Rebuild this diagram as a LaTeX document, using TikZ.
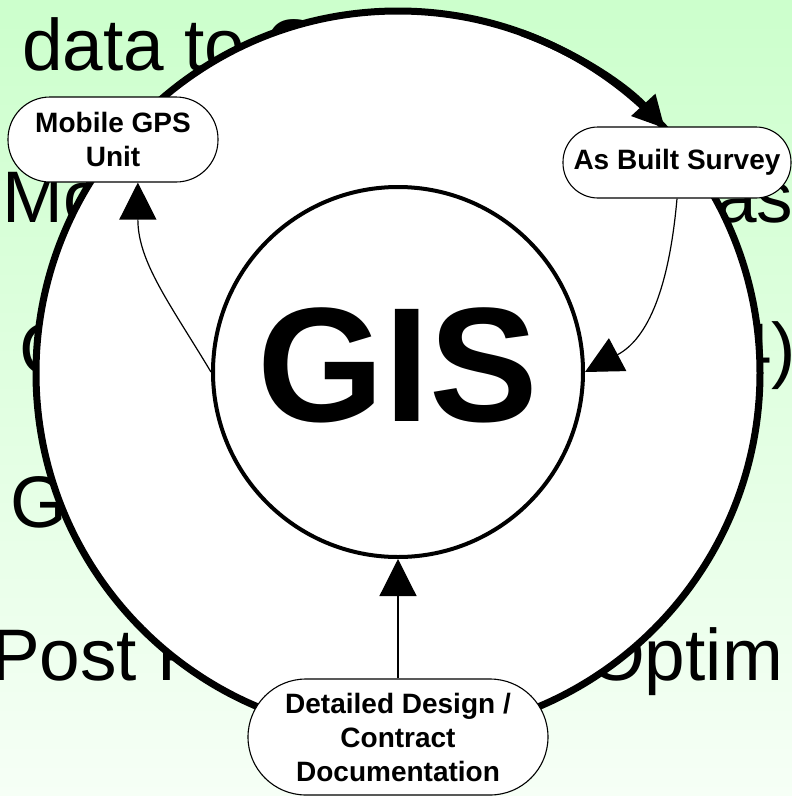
\documentclass[tikz,border=0pt]{standalone}
\usepackage{fontspec}
\setmainfont{Liberation Sans}
\usetikzlibrary{arrows.meta}
\definecolor{slidetop}{RGB}{204,255,204}
\definecolor{slidebottom}{RGB}{246,255,246}

\begin{document}
\begin{tikzpicture}[
  x=1pt, y=1pt,
  bullet/.style={anchor=base west, inner sep=0pt, font=\fontsize{73}{80}\selectfont},
  stage/.style={draw, fill=white, line width=1.1pt, align=center, inner sep=0pt, font=\fontsize{28}{34}\selectfont\bfseries},
  arr/.style={-{Triangle[length=37pt, width=37pt]}, line width=1.2pt},
  ringarr/.style={-{Triangle[length=32pt, width=31pt]}, line width=7pt}
]
\useasboundingbox (0,0) rectangle (792,-796);
\shade[top color=slidetop, bottom color=slidebottom] (0,0) rectangle (792,-796);
\node[bullet] (line1) at (22,-70.5) {data to G};
\node[bullet] (line2) at (2,-222) {Mo};
\node[bullet] (line2r) at (716,-222) {as};
\node[bullet] (line3) at (19,-374) {C};
\node[bullet] (line3r) at (731,-374) {4)};
\node[bullet] (line4) at (10,-527) {G};
\node[bullet] (line5) at (-9,-680) {Post P};
\node[bullet] (line5r) at (588,-680) {Optim};
\node[circle, draw, line width=7pt, fill=white, minimum size=724pt, inner sep=0pt, outer sep=0pt] (ring) at (398,-373) {};
\draw[ringarr] (ring.70) arc[start angle=70, end angle=42.5, radius=362pt];
\node[circle, draw, line width=4pt, fill=white, minimum size=370pt, inner sep=0pt, text depth=14pt, font=\fontsize{163}{170}\selectfont\bfseries] (gis) at (398,-372) {GIS};
\node[stage, minimum width=210pt, minimum height=85pt, rounded corners=42pt] (gps) at (113,-139.5) {Mobile GPS\\Unit};
\node[stage, minimum width=228pt, minimum height=71pt, rounded corners=35pt] (survey) at (677,-162.5) {As Built Survey};
\node[stage, minimum width=300pt, minimum height=116pt, rounded corners=58pt] (design) at (398,-737) {Detailed Design /\\Contract\\Documentation};
\draw[arr] (gis.west) to[out=121, in=-90] (gps.-60);
\draw[arr] (survey.south) to[out=-95, in=28] (gis.east);
\draw[arr] (design.north) -- (gis.south);
\end{tikzpicture}
\end{document}
